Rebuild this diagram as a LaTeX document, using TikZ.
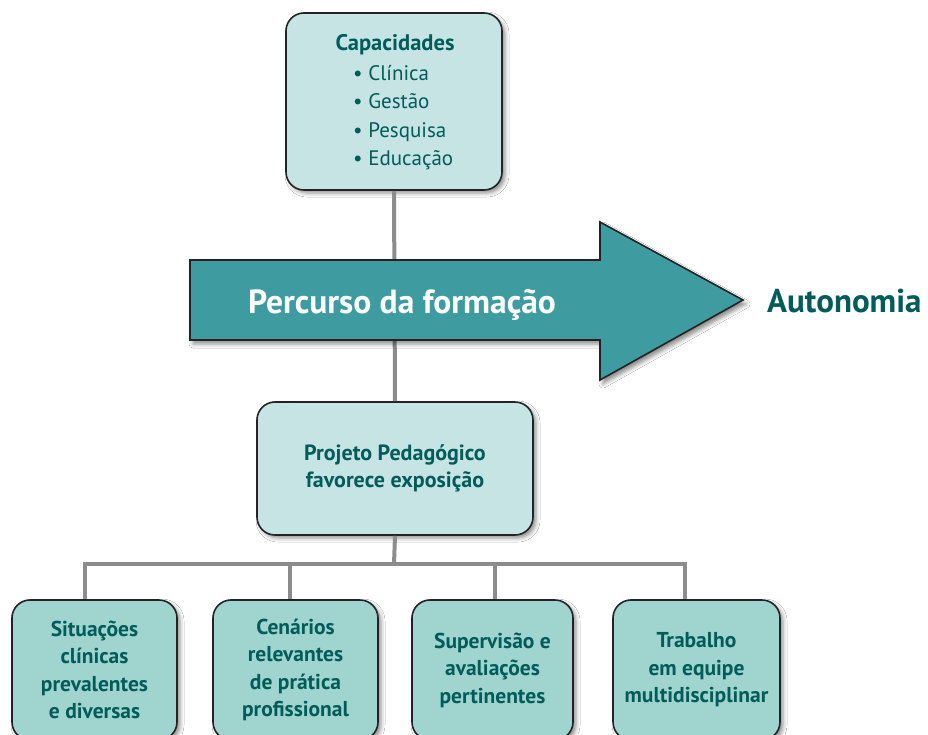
\documentclass[tikz,border=0pt]{standalone}
\usepackage{fontspec}
\setmainfont{PT Sans}
\usetikzlibrary{shadows.blur}
\definecolor{tealtext}{RGB}{0,92,90}
\definecolor{boxlight}{RGB}{198,228,228}
\definecolor{boxdark}{RGB}{160,212,206}
\definecolor{arrowfill}{RGB}{62,156,160}
\definecolor{conngray}{RGB}{140,140,140}
\definecolor{edgecol}{RGB}{35,35,35}
\tikzset{
  boxbase/.style={draw=edgecol, line width=1.6pt, rounded corners=18pt,
    blur shadow={shadow xshift=3pt, shadow yshift=-3pt, shadow blur radius=4pt, shadow opacity=45},
    text=tealtext, align=center, inner sep=0pt},
  lightbox/.style={boxbase, fill=boxlight},
  darkbox/.style={boxbase, fill=boxdark, minimum width=165pt, minimum height=140pt,
    font=\fontsize{21.5}{27.5}\selectfont\bfseries},
  conn/.style={draw=conngray, line width=4pt},
  listitem/.style={anchor=base west, text=tealtext, font=\fontsize{21}{28}\selectfont, inner sep=0pt},
}
\begin{document}
\begin{tikzpicture}[x=1pt,y=-1pt]
\useasboundingbox[fill=white] (0,0) rectangle (928,734);

% top box
\node[lightbox, minimum width=216pt, minimum height=177pt] (top) at (394,101.5) {};
\node[anchor=base, text=tealtext, font=\fontsize{22.5}{28}\selectfont\bfseries, inner sep=0pt] (title) at (395,50) {Capacidades};
\node[listitem] (i1) at (353,80) {\textbullet\ Clínica};
\node[listitem] (i2) at (353,108.5) {\textbullet\ Gestão};
\node[listitem] (i3) at (353,137) {\textbullet\ Pesquisa};
\node[listitem] (i4) at (353,165.5) {\textbullet\ Educação};

% middle box
\node[lightbox, minimum width=276pt, minimum height=133pt,
  font=\fontsize{22}{27}\selectfont\bfseries] (mid) at (395,468.5)
  {Projeto Pedagógico\\favorece exposição};

% bottom boxes
\node[darkbox] (b1) at (94.5,670) {Situações\\clínicas\\prevalentes\\e diversas};
\node[darkbox] (b2) at (295.5,670) {Cenários\\relevantes\\de prática\\profissional};
\node[darkbox, minimum width=161pt] (b3) at (492.5,670) {Supervisão e\\avaliações\\pertinentes};
\node[darkbox, minimum width=167pt] (b4) at (696.5,670) {Trabalho\\em equipe\\multidisciplinar};

% connectors
\coordinate (bus) at (394,564);
\coordinate (d1) at (85,564);
\coordinate (d2) at (290,564);
\coordinate (d3) at (495,564);
\coordinate (d4) at (685,564);
\draw[conn] (top.south) -- (mid.north);
\draw[conn] (mid.south) -- (bus);
\draw[conn, line cap=rect] (d1) -- (d4);
\draw[conn] (d1) -- (d1 |- b1.north);
\draw[conn] (d2) -- (d2 |- b2.north);
\draw[conn] (d3) -- (d3 |- b3.north);
\draw[conn] (d4) -- (d4 |- b4.north);

% big arrow
\draw[draw=edgecol, line width=1.6pt, fill=arrowfill, line join=miter,
  blur shadow={shadow xshift=3pt, shadow yshift=-4pt, shadow blur radius=4pt, shadow opacity=45}]
  (190,260) -- (600,260) -- (600,222) -- (743,300) -- (600,380) -- (600,340) -- (190,340) -- cycle;
\node[anchor=base, text=white, font=\fontsize{33.5}{36}\selectfont\bfseries, inner sep=0pt] (perc) at (402,313) {Percurso da formação};
\node[anchor=base west, text=tealtext, font=\fontsize{33}{36}\selectfont\bfseries, inner sep=0pt] (auto) at (767,312) {Autonomia};
\end{tikzpicture}
\end{document}
